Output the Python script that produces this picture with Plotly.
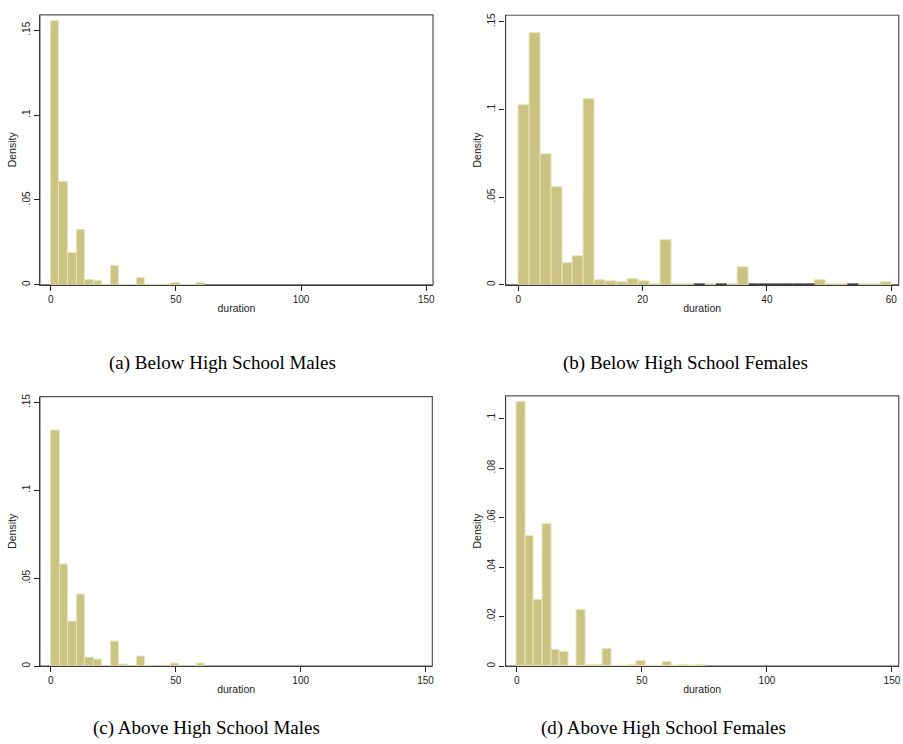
import plotly.graph_objects as go

# ---------------- data (densities per histogram bin) ----------------
# panels a, c, d: bins of width 144/42 starting at 0; panel b: bins of width 60/34 starting at 0
bin_width_wide = 144 / 42
bin_width_b = 60 / 34

density_a = [0.1555, 0.0606, 0.0190, 0.0324, 0.0029, 0.0024, 0.0, 0.0112, 0.0, 0.0,
             0.0039, 0.0, 0.0, 0.0, 0.0010, 0.0, 0.0, 0.0010]
density_b = [0.1027, 0.1436, 0.0746, 0.0557, 0.0125, 0.0165, 0.1061, 0.0025, 0.0019, 0.0013,
             0.0030, 0.0019, 0.0003, 0.0254, 0.0004, 0.0004, 0.0, 0.0004, 0.0, 0.0004,
             0.0098, 0.0, 0.0, 0.0, 0.0, 0.0, 0.0, 0.0027, 0.0004, 0.0004,
             0.0, 0.0004, 0.0004, 0.0013]
density_c = [0.1338, 0.0579, 0.0252, 0.0406, 0.0046, 0.0040, 0.0, 0.0139, 0.0008, 0.0,
             0.0057, 0.0, 0.0, 0.0, 0.0017, 0.0, 0.0, 0.0017]
density_d = [0.1067, 0.0528, 0.0268, 0.0575, 0.0066, 0.0059, 0.0002, 0.0228, 0.0004, 0.0004,
             0.0070, 0.0, 0.0, 0.0005, 0.0020, 0.0, 0.0, 0.0016, 0.0, 0.0004,
             0.0, 0.0004]

captions = ["(a) Below High School Males", "(b) Below High School Females",
            "(c) Above High School Males", "(d) Above High School Females"]

xticks_wide = [0, 50, 100, 150]
xticks_b = [0, 20, 40, 60]
yticks_15 = [0, 0.05, 0.1, 0.15]
yticks_15_text = ["0", ".05", ".1", ".15"]
yticks_d = [0, 0.02, 0.04, 0.06, 0.08, 0.1]
yticks_d_text = ["0", ".02", ".04", ".06", ".08", ".1"]

# ---------------- styling ----------------
W, H = 903, 744
BAR_FILL = "rgb(202,195,130)"
BAR_EDGE = "rgb(232,228,188)"
AXIS_COL = "#3a3a3a"
TICK_FONT = dict(family="Liberation Sans, Arial, sans-serif", size=10, color="#222")
TITLE_FONT = dict(family="Liberation Sans, Arial, sans-serif", size=10.5, color="#222")


def px_x(a, b):
    return [a / W, b / W]


def px_y(top, bottom):
    return [1 - bottom / H, 1 - top / H]


panels = [
    dict(data=density_a, w=bin_width_wide, xd=px_x(40, 434), yd=px_y(12, 283.3),
         xr=[-4.3, 152.7], yr=[0, 0.159], xt=xticks_wide, yt=yticks_15, ytt=yticks_15_text),
    dict(data=density_b, w=bin_width_b, xd=px_x(506.7, 900.7), yd=px_y(12.3, 283.3),
         xr=[-2.03, 61.2], yr=[0, 0.1538], xt=xticks_b, yt=yticks_15, ytt=yticks_15_text),
    dict(data=density_c, w=bin_width_wide, xd=px_x(40, 433.3), yd=px_y(395.7, 666.7),
         xr=[-4.39, 152.7], yr=[0, 0.1534], xt=xticks_wide, yt=yticks_15, ytt=yticks_15_text),
    dict(data=density_d, w=bin_width_wide, xd=px_x(506.7, 900.7), yd=px_y(395, 666.7),
         xr=[-4.52, 152.7], yr=[0, 0.1092], xt=xticks_wide, yt=yticks_d, ytt=yticks_d_text),
]

fig = go.Figure()
layout = dict(width=W, height=H, margin=dict(l=0, r=0, t=0, b=0),
              paper_bgcolor="white", plot_bgcolor="white", showlegend=False,
              bargap=0, shapes=[], annotations=[])

for i, p in enumerate(panels):
    k = "" if i == 0 else str(i + 1)
    xs = [(j + 0.5) * p["w"] for j in range(len(p["data"]))]
    fig.add_trace(go.Bar(x=xs, y=p["data"], width=p["w"],
                         marker=dict(color=BAR_FILL, line=dict(color=BAR_EDGE, width=1)),
                         xaxis="x" + k, yaxis="y" + k, hoverinfo="x+y"))
    layout["xaxis" + k] = dict(domain=p["xd"], range=p["xr"], anchor="y" + k,
                               tickmode="array", tickvals=p["xt"],
                               ticks="outside", ticklen=5, tickwidth=1, tickcolor="#222",
                               showline=True, linecolor=AXIS_COL, linewidth=1.3,
                               showgrid=False, zeroline=False, tickfont=TICK_FONT,
                               title=dict(text="duration", font=TITLE_FONT, standoff=0))
    layout["yaxis" + k] = dict(domain=p["yd"], range=p["yr"], anchor="x" + k,
                               tickmode="array", tickvals=p["yt"], ticktext=p["ytt"],
                               tickangle=-90,
                               ticks="outside", ticklen=5, tickwidth=1, tickcolor="#222",
                               showline=True, linecolor=AXIS_COL, linewidth=1.3,
                               showgrid=False, zeroline=False, tickfont=TICK_FONT,
                               title=dict(text="Density", font=TITLE_FONT, standoff=2))
    layout["shapes"].append(dict(type="rect", xref="x" + k + " domain", yref="y" + k + " domain",
                                 x0=0, x1=1, y0=0, y1=1,
                                 line=dict(color="#555", width=1.2), layer="below"))

# panel (b): empty bins show as dark outline segments on the baseline
seg_x, seg_y = [], []
for j, v in enumerate(density_b):
    if v == 0:
        seg_x += [j * bin_width_b, (j + 1) * bin_width_b, None]
        seg_y += [0, 0, None]
fig.add_trace(go.Scatter(x=seg_x, y=seg_y, mode="lines", line=dict(color="#111", width=2.5),
                         xaxis="x2", yaxis="y2", cliponaxis=False, hoverinfo="skip"))

caption_pos = [(223, 362), (687.5, 362), (206.5, 729), (664.5, 729)]
for text, (cx, cy) in zip(captions, caption_pos):
    layout["annotations"].append(dict(text=text, xref="paper", yref="paper",
                                      x=cx / W, y=1 - cy / H, showarrow=False,
                                      xanchor="center", yanchor="middle",
                                      font=dict(family="Liberation Serif, Times New Roman, serif",
                                                size=19, color="black")))

fig.update_layout(**layout)
fig.write_html("out.html", config={"displayModeBar": False},
               post_script="document.body.style.margin='0';document.body.style.overflow='hidden';")
